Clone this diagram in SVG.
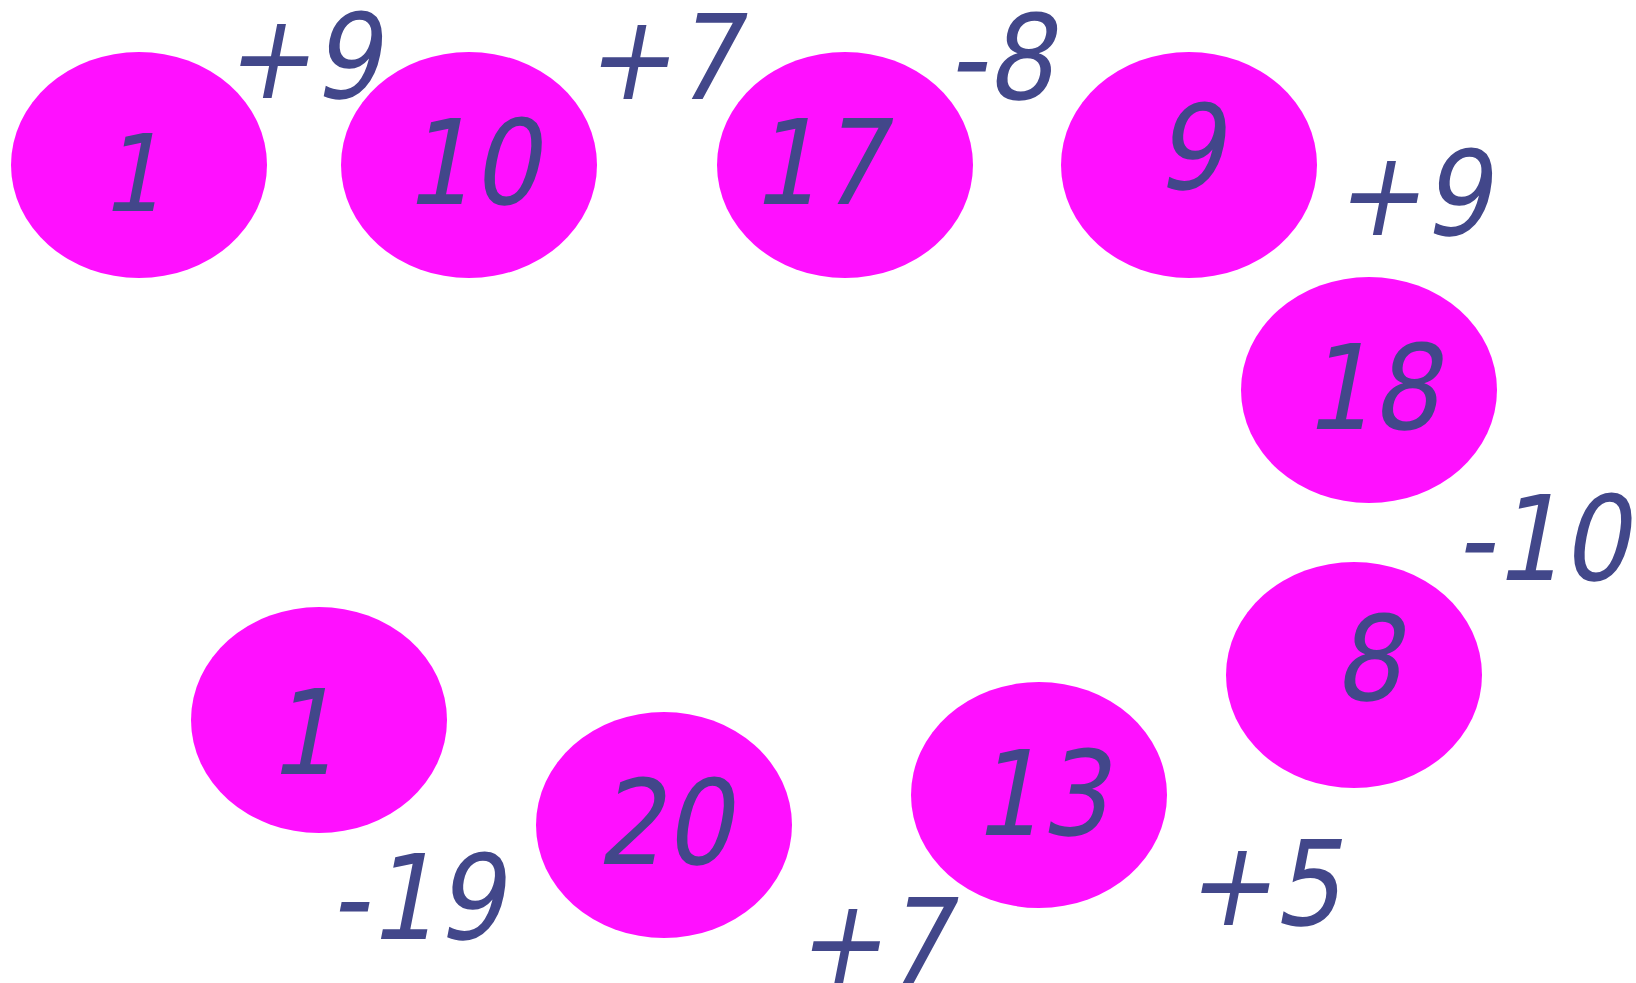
<svg xmlns="http://www.w3.org/2000/svg" width="1636" height="983" viewBox="0 0 1636 983">
<style>
.n{fill:#ff10ff}
.t{font-family:"DejaVu Sans Condensed","DejaVu Sans",sans-serif;font-stretch:condensed;font-size:118px;fill:#42478a;text-anchor:middle}
</style>
<rect width="1636" height="983" fill="#ffffff"/>
<g id="node1"><ellipse class="n" cx="139" cy="165" rx="128" ry="113"/><text class="t" transform="translate(131,211) skewX(-11)" style="font-size:107px">1</text></g>
<g id="node2"><ellipse class="n" cx="469" cy="165" rx="128" ry="113"/><text class="t" transform="translate(471,204) skewX(-11)">10</text></g>
<g id="node3"><ellipse class="n" cx="845" cy="165" rx="128" ry="113"/><text class="t" transform="translate(818,203.5) skewX(-11)">17</text></g>
<g id="node4"><ellipse class="n" cx="1189" cy="165" rx="128" ry="113"/><text class="t" transform="translate(1189,189) skewX(-11)">9</text></g>
<g id="node5"><ellipse class="n" cx="1369" cy="390" rx="128" ry="113"/><text class="t" transform="translate(1371,429) skewX(-11)">18</text></g>
<g id="node6"><ellipse class="n" cx="1354" cy="675" rx="128" ry="113"/><text class="t" transform="translate(1367,699.5) skewX(-11)">8</text></g>
<g id="node7"><ellipse class="n" cx="1039" cy="795" rx="128" ry="113"/><text class="t" transform="translate(1040,834.5) skewX(-11)">13</text></g>
<g id="node8"><ellipse class="n" cx="664" cy="825" rx="128" ry="113"/><text class="t" transform="translate(663.5,863.5) skewX(-11)">20</text></g>
<g id="node9"><ellipse class="n" cx="319" cy="720" rx="128" ry="113"/><text class="t" transform="translate(301.5,773.5) skewX(-11)">1</text></g>
<g id="labels">
<text class="t" transform="translate(301,98) skewX(-11)">+9</text>
<text class="t" transform="translate(661.5,98.5) skewX(-11)">+7</text>
<text class="t" transform="translate(1000,99) skewX(-11)">-8</text>
<text class="t" transform="translate(1411,234.5) skewX(-11)">+9</text>
<text class="t" transform="translate(1541.5,579.5) skewX(-11)">-10</text>
<text class="t" transform="translate(1262,924.5) skewX(-11)">+5</text>
<text class="t" transform="translate(872.5,982.5) skewX(-11)">+7</text>
<text class="t" transform="translate(416,938.5) skewX(-11)">-19</text>
</g>
</svg>
